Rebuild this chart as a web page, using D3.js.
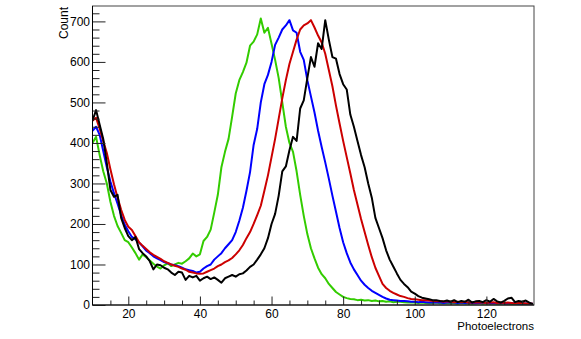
<!DOCTYPE html>
<meta charset="utf-8">
<style>
  body { margin: 0; background: #fff; }
  text { font-family: "Liberation Sans", Arial, sans-serif; fill: #000; }
</style>
<script src="https://cdn.jsdelivr.net/npm/d3@7"></script>
<div id="chart"></div>
<script>

// bins: one per photoelectron, starting at 10
var xStart = 10;
var xTicks = [20, 40, 60, 80, 100, 120];
var yTicks = [0, 100, 200, 300, 400, 500, 600, 700];

var green = [400, 415, 370, 330, 300, 255, 220, 195, 178, 160, 155, 142, 128, 112, 125, 118, 110, 102, 95, 90,
  98, 103, 96, 100, 104, 102, 108, 115, 127, 120, 125, 158, 168, 186, 228, 272, 340, 378, 410, 465,
  522, 555, 575, 598, 640, 650, 668, 707, 672, 684, 645, 605, 560, 500, 440, 400, 378, 330, 272, 220,
  175, 140, 115, 92, 76, 66, 52, 42, 32, 26, 20, 17, 15, 14, 12, 13, 11, 12, 10, 11,
  9, 10, 8, 9, 7, 8, 8, 7, 6, 7, 6, 5, 6, 5, 4, 5, 6, 4, 5, 4,
  5, 4, 3, 5, 4, 4, 3, 4, 5, 3, 4, 3, 4, 3, 3, 4, 3, 2, 3, 3, 2, 3, 2, 2];

var blue = [430, 440, 420, 380, 340, 305, 276, 250, 222, 198, 182, 168, 162, 154, 145, 134, 128, 120, 115, 111,
  106, 103, 100, 98, 96, 92, 88, 86, 84, 80, 82, 90, 96, 100, 112, 120, 128, 140, 150, 160,
  180, 208, 240, 282, 328, 395, 435, 500, 545, 568, 600, 642, 660, 680, 690, 703, 678, 672, 625, 605,
  555, 515, 475, 430, 390, 352, 312, 270, 230, 190, 155, 128, 105, 88, 74, 60, 50, 42, 35, 30,
  25, 20, 16, 13, 12, 11, 10, 10, 9, 8, 8, 7, 8, 7, 6, 7, 6, 7, 5, 6,
  7, 6, 5, 6, 5, 6, 5, 4, 5, 6, 5, 4, 5, 4, 5, 4, 4, 5, 4, 3, 4, 4, 3, 3];

var red = [455, 462, 435, 405, 375, 335, 298, 265, 235, 210, 193, 185, 170, 155, 146, 138, 130, 124, 119, 114,
  108, 104, 100, 97, 94, 90, 87, 82, 80, 78, 77, 78, 82, 86, 90, 96, 100, 106, 110, 116,
  125, 135, 148, 165, 180, 200, 222, 245, 282, 320, 365, 410, 460, 510, 555, 595, 625, 655, 680, 690,
  695, 703, 685, 665, 648, 620, 580, 540, 492, 448, 405, 365, 325, 284, 248, 212, 180, 148, 118, 92,
  72, 52, 42, 35, 30, 26, 22, 20, 17, 15, 14, 13, 12, 12, 11, 10, 9, 10, 8, 9,
  8, 7, 8, 7, 8, 6, 7, 6, 7, 6, 5, 6, 7, 5, 6, 5, 6, 5, 4, 5, 5, 4, 4, 3];

var black = [455, 481, 445, 410, 350, 284, 267, 272, 215, 190, 170, 160, 168, 138, 128, 120, 108, 88, 100, 98,
  92, 88, 80, 74, 82, 80, 62, 72, 68, 72, 60, 66, 70, 64, 68, 62, 55, 66, 70, 74,
  70, 76, 78, 85, 94, 100, 112, 125, 140, 165, 200, 225, 270, 330, 342, 382, 415, 405, 485, 505,
  560, 612, 588, 646, 632, 703, 655, 612, 608, 570, 545, 532, 470, 440, 405, 370, 340, 300, 265, 215,
  190, 165, 135, 112, 95, 78, 62, 52, 44, 33, 28, 22, 18, 16, 14, 12, 12, 10, 9, 11,
  8, 12, 7, 10, 8, 13, 6, 9, 10, 7, 12, 8, 15, 9, 6, 10, 16, 18, 7, 10, 8, 11, 6, 2];

var series = [
  { name: "green", values: green, color: "#33cc00" },
  { name: "blue", values: blue, color: "#0000ff" },
  { name: "red", values: red, color: "#cc0000" },
  { name: "black", values: black, color: "#000000" }
];

var W = 581, H = 339;
var frame = { left: 92.5, right: 534, top: 6, bottom: 305 };

var svg = d3.select("#chart").append("svg")
  .attr("width", W)
  .attr("height", H);

var x = d3.scaleLinear().domain([10, 133.3]).range([frame.left, frame.right]);
var y = d3.scaleLinear().domain([0, 738]).range([frame.bottom, frame.top]);

svg.append("clipPath").attr("id", "clip")
  .append("rect")
  .attr("x", frame.left).attr("y", frame.top)
  .attr("width", frame.right - frame.left)
  .attr("height", frame.bottom - frame.top);

// histograms
var line = d3.line()
  .x(function(d, i) { return x(xStart + i); })
  .y(function(d) { return y(d); });

svg.append("g").attr("clip-path", "url(#clip)")
  .selectAll("path")
  .data(series)
  .enter()
  .append("path")
    .attr("d", function(d) { return line(d.values); })
    .style("fill", "none")
    .style("stroke", function(d) { return d.color; })
    .style("stroke-width", 2)
    .style("stroke-linejoin", "round");

// x axis, ticks pointing up into the frame
var xMinor = d3.range(15, 134, 5).filter(function(v) { return v % 20 != 0; });
svg.append("g")
  .attr("transform", "translate(0," + frame.bottom + ")")
  .call(d3.axisBottom(x).tickValues(xMinor).tickSize(-4.5).tickFormat(""))
  .call(function(g) { g.select(".domain").remove(); });
svg.append("g")
  .attr("transform", "translate(0," + frame.bottom + ")")
  .call(d3.axisBottom(x).tickValues(xTicks).tickSize(-8.5).tickPadding(4.5).tickFormat(d3.format("d")))
  .call(function(g) { g.select(".domain").remove(); })
  .selectAll("text").style("font-size", "12px").attr("fill", "#000");

// y axis, ticks pointing right into the frame
var yMinor = d3.range(20, 738, 20).filter(function(v) { return v % 100 != 0; });
svg.append("g")
  .attr("transform", "translate(" + frame.left + ",0)")
  .call(d3.axisLeft(y).tickValues(yMinor).tickSize(-7).tickFormat(""))
  .call(function(g) { g.select(".domain").remove(); });
svg.append("g")
  .attr("transform", "translate(" + frame.left + ",0)")
  .call(d3.axisLeft(y).tickValues(yTicks).tickSize(-13).tickPadding(2.5).tickFormat(d3.format("d")))
  .call(function(g) { g.select(".domain").remove(); })
  .selectAll("text").style("font-size", "12px").attr("fill", "#000");

svg.selectAll(".tick line").style("stroke", "#222");

// frame
svg.append("rect")
  .attr("x", frame.left).attr("y", frame.top)
  .attr("width", frame.right - frame.left)
  .attr("height", frame.bottom - frame.top)
  .style("fill", "none")
  .style("stroke", "#444")
  .style("stroke-width", 1);
svg.append("line")
  .attr("x1", frame.left).attr("x2", frame.left)
  .attr("y1", frame.top).attr("y2", frame.bottom)
  .style("stroke", "#000");
svg.append("line")
  .attr("x1", frame.left).attr("x2", frame.right)
  .attr("y1", frame.bottom).attr("y2", frame.bottom)
  .style("stroke", "#000");

// axis titles
svg.append("text")
  .attr("transform", "translate(68," + (frame.top + 1) + ") rotate(-90)")
  .style("text-anchor", "end")
  .style("font-size", "12px")
  .text("Count");

svg.append("text")
  .attr("x", frame.right)
  .attr("y", 330)
  .style("text-anchor", "end")
  .style("font-size", "11.5px")
  .text("Photoelectrons");

</script>
